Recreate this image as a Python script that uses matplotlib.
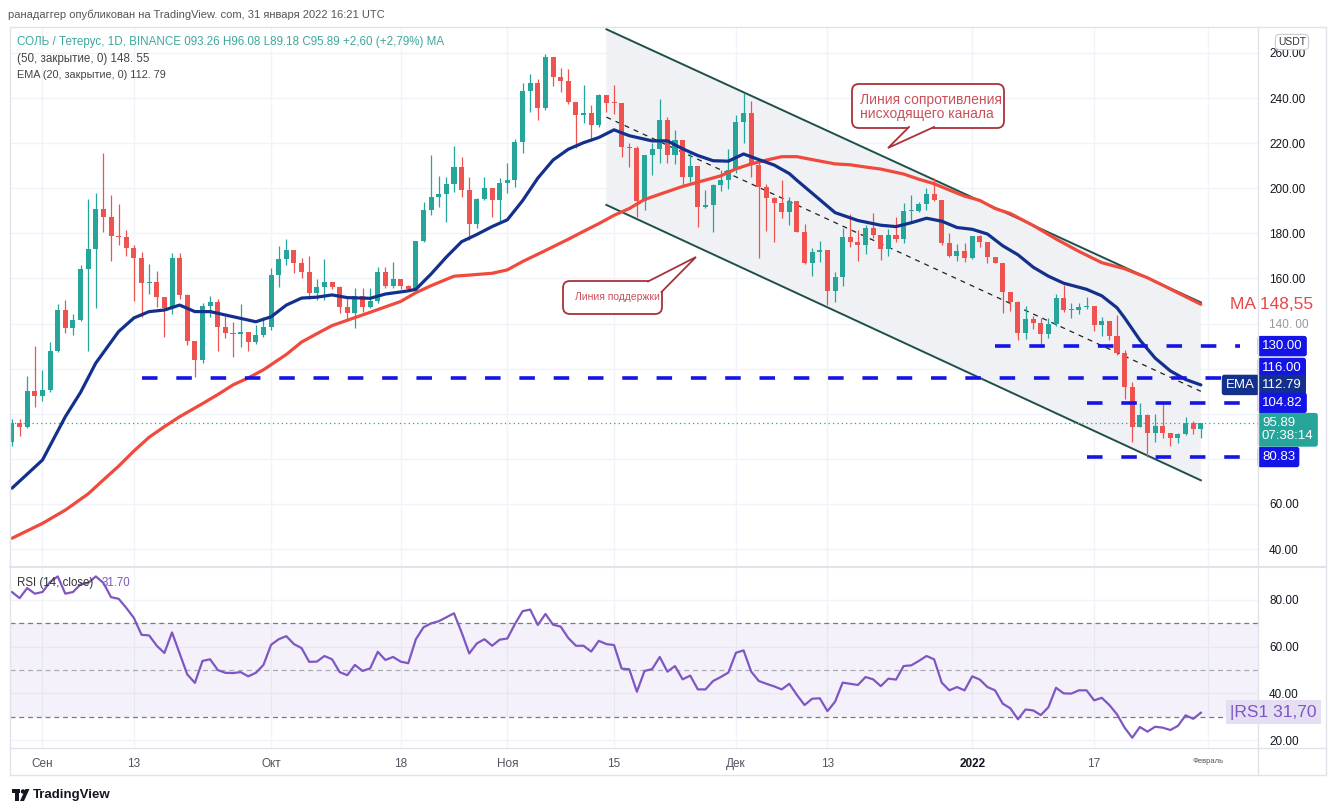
import matplotlib
matplotlib.use("Agg")
import matplotlib.pyplot as plt
from matplotlib.patches import FancyBboxPatch, Polygon, Rectangle, Circle
from matplotlib.transforms import blended_transform_factory

plt.rcParams["font.family"] = ["Liberation Sans", "DejaVu Sans"]

# ---- данные (дневные свечи 28.08.2021 - 31.01.2022) ----
FIRST_OPEN = 87.6
LAST_OPEN = 93.26
closes = [
    95.8, 94.0, 110.2, 107.9, 110.5, 127.9, 146.0, 138.2, 141.6, 164.1,
    173.1, 190.8, 187.4, 178.8, 178.5, 173.7, 169.0, 158.1, 158.5, 152.0,
    147.1, 169.2, 152.5, 132.4, 123.9, 147.8, 149.7, 138.6, 135.7, 135.2,
    136.3, 131.7, 135.0, 138.6, 161.6, 168.6, 172.6, 166.7, 163.0, 153.5,
    156.0, 158.6, 156.4, 147.2, 144.6, 152.2, 147.5, 150.0, 162.7, 156.7,
    159.8, 156.7, 155.2, 176.6, 190.4, 196.0, 197.5, 201.9, 209.6, 199.2,
    184.0, 195.1, 200.0, 194.8, 202.2, 203.7, 220.4, 243.1, 246.5, 235.5,
    258.1, 249.2, 247.7, 238.4, 232.5, 233.3, 228.1, 241.4, 238.0, 237.7,
    218.5, 218.0, 194.5, 214.8, 217.3, 230.3, 214.8, 221.4, 205.1, 209.9,
    191.8, 192.6, 201.4, 203.7, 208.1, 229.5, 233.5, 210.3, 200.4, 195.8,
    193.3, 189.6, 194.5, 180.8, 167.0, 171.8, 172.6, 154.6, 160.8, 178.3,
    176.3, 174.9, 182.3, 179.3, 173.1, 179.3, 177.4, 189.9, 190.1, 193.0,
    197.5, 194.8, 175.9, 170.0, 172.0, 169.0, 178.8, 176.3, 169.7, 167.0,
    154.2, 149.4, 136.0, 141.9, 140.1, 135.4, 140.0, 151.2, 146.0, 146.2,
    147.2, 147.8, 139.4, 141.3, 134.5, 126.8, 112.0, 94.3, 99.5, 91.6,
    94.6, 91.6, 89.1, 91.0, 95.8, 93.1, 95.89,
]
highs = [
    97.6, 97.6, 116.8, 130.0, 119.4, 131.8, 148.7, 150.5, 144.3, 165.9,
    195.1, 197.8, 215.5, 197.0, 193.0, 181.5, 175.0, 171.6, 166.4, 163.3,
    152.0, 171.2, 171.4, 153.0, 132.4, 149.3, 152.2, 150.8, 143.4, 140.9,
    148.7, 136.3, 139.4, 142.8, 164.5, 174.4, 177.4, 172.6, 169.0, 170.0,
    159.6, 168.5, 158.6, 156.7, 152.2, 155.6, 155.6, 155.6, 165.2, 165.2,
    167.4, 159.8, 157.1, 176.8, 193.8, 214.8, 205.5, 204.9, 218.8, 213.7,
    205.1, 195.5, 205.1, 200.0, 204.4, 211.1, 222.0, 246.8, 250.5, 248.3,
    259.6, 258.1, 253.2, 252.8, 238.4, 245.8, 236.9, 241.6, 241.4, 245.8,
    237.7, 220.0, 218.8, 214.8, 220.0, 239.5, 231.8, 225.9, 221.4, 215.5,
    209.9, 199.2, 201.8, 208.1, 217.4, 232.5, 242.4, 238.8, 212.5, 201.8,
    196.2, 203.7, 196.2, 194.5, 184.2, 173.4, 176.8, 172.6, 163.0, 182.3,
    188.6, 181.5, 183.7, 189.2, 179.3, 181.8, 187.4, 193.3, 197.0, 194.1,
    200.0, 204.4, 195.0, 180.0, 175.3, 175.9, 178.8, 179.3, 176.3, 169.7,
    167.0, 154.2, 150.0, 147.8, 143.4, 142.3, 142.3, 153.1, 157.1, 149.0,
    149.0, 151.7, 147.8, 143.1, 141.3, 143.6, 128.3, 114.0, 104.7, 100.0,
    100.0, 104.7, 91.6, 91.6, 98.4, 97.0, 96.08,
]
lows = [
    85.7, 90.2, 93.5, 103.0, 105.8, 109.5, 127.4, 135.7, 135.0, 141.0,
    128.0, 146.8, 180.8, 167.9, 174.9, 170.0, 150.2, 143.1, 153.1, 147.5,
    133.9, 144.3, 150.8, 130.5, 116.2, 122.4, 143.1, 128.0, 133.5, 125.0,
    129.8, 128.0, 131.0, 134.2, 137.0, 156.1, 166.0, 162.6, 160.0, 151.0,
    150.5, 150.5, 155.5, 144.6, 141.9, 137.9, 145.3, 146.8, 149.0, 155.6,
    155.6, 155.2, 154.5, 155.0, 176.3, 188.2, 191.8, 185.2, 198.5, 196.3,
    177.1, 182.3, 194.8, 187.4, 185.2, 197.8, 200.7, 215.5, 234.0, 230.3,
    234.7, 245.5, 242.8, 237.4, 217.7, 228.8, 221.4, 227.3, 234.0, 233.0,
    213.7, 209.6, 187.4, 190.4, 205.9, 211.1, 211.1, 210.9, 200.7, 202.9,
    182.7, 191.4, 180.8, 199.0, 199.6, 206.6, 220.0, 205.1, 169.0, 181.2,
    176.3, 186.7, 183.7, 180.5, 166.5, 161.1, 167.5, 148.2, 149.7, 156.7,
    174.1, 167.9, 170.9, 177.8, 168.2, 170.0, 176.3, 175.6, 184.5, 189.6,
    190.4, 194.5, 175.0, 169.5, 167.9, 167.5, 168.5, 174.1, 166.7, 166.7,
    144.8, 145.7, 132.7, 133.0, 137.5, 129.5, 133.8, 139.1, 145.3, 142.3,
    144.4, 146.6, 136.9, 134.5, 132.7, 126.0, 106.4, 87.6, 94.0, 81.0,
    87.6, 89.1, 85.9, 87.2, 90.6, 91.0, 89.18,
]

ema_days = [0, 4, 7, 9, 11, 14, 16, 18, 20, 22, 24, 26, 28, 30, 32, 34, 36, 38, 40,
            42, 44, 47, 49, 52, 53, 55, 57, 59, 61, 63, 65, 67, 69, 71, 73, 75, 77,
            79, 81, 84, 86, 88, 90, 92, 94, 96, 98, 100, 102, 103, 105, 108, 111,
            114, 116, 118, 120, 122, 124, 126, 128, 130, 132, 134, 136, 138, 141,
            143, 145, 146, 148, 150, 152, 154, 156]
ema_vals = [67.0, 79.5, 98.7, 109.5, 122.5, 136.5, 142.5, 145.3, 146.0, 148.2, 145.3,
            145.3, 143.8, 142.3, 140.8, 143.0, 148.2, 151.3, 151.7, 152.7, 151.5,
            151.2, 153.1, 154.5, 155.2, 162.0, 169.5, 176.3, 179.5, 183.0, 186.0,
            194.5, 204.5, 212.5, 217.3, 220.2, 222.5, 225.9, 223.3, 221.0, 221.0,
            217.5, 214.5, 212.2, 212.0, 215.2, 212.7, 210.3, 206.5, 203.5, 197.8,
            189.2, 185.7, 183.6, 183.0, 184.7, 186.7, 185.4, 182.6, 181.8, 179.7,
            174.5, 170.5, 165.0, 161.0, 157.9, 155.2, 152.3, 147.0, 142.5, 132.7,
            124.7, 119.0, 115.2, 112.79]
ma_days = [0, 4, 7, 10, 12, 14, 16, 18, 20, 22, 25, 27, 29, 31, 33, 36, 38, 40, 42,
           47, 51, 53, 55, 58, 60, 63, 65, 67, 70, 73, 75, 77, 79, 81, 83, 86, 88,
           90, 93, 95, 97, 99, 101, 103, 105, 108, 110, 112, 114, 117, 119, 121,
           123, 125, 127, 129, 131, 134, 137, 140, 143, 146, 149, 151, 153, 156]
ma_vals = [44.8, 51.4, 57.3, 64.5, 70.7, 76.8, 83.5, 89.6, 94.3, 98.7, 104.5, 108.5,
           112.8, 115.9, 119.5, 126.3, 131.8, 135.5, 139.1, 145.0, 149.8, 153.7,
           156.8, 161.0, 161.5, 162.3, 163.8, 167.5, 172.4, 177.4, 180.9, 184.3,
           188.0, 191.0, 195.0, 198.5, 200.8, 202.7, 205.5, 208.6, 210.8, 212.5,
           214.0, 214.0, 212.7, 210.8, 210.4, 209.4, 208.5, 206.3, 204.0, 202.0,
           199.2, 196.5, 194.6, 191.0, 188.8, 183.5, 177.5, 172.0, 167.0, 164.3,
           160.3, 157.0, 153.6, 148.55]

rsi_vals = [
    83.4, 80.8, 85.1, 82.7, 83.4, 87.7, 90.1, 82.7, 83.4, 86.7,
    87.3, 90.1, 87.3, 81.2, 80.5, 76.6, 72.3, 65.1, 64.8, 60.4,
    57.3, 66.1, 57.1, 48.1, 44.5, 53.9, 54.6, 50.0, 48.8, 48.7,
    49.1, 47.3, 48.8, 52.2, 60.8, 63.2, 64.5, 61.1, 59.4, 53.5,
    53.6, 56.0, 54.6, 49.1, 47.8, 52.2, 49.6, 50.7, 57.8, 54.3,
    55.6, 53.6, 52.9, 63.2, 68.3, 70.0, 70.9, 72.6, 74.3, 66.1,
    57.1, 61.4, 63.2, 60.4, 63.0, 63.5, 69.7, 75.2, 75.9, 69.3,
    74.0, 69.4, 68.6, 63.7, 60.4, 60.4, 57.9, 62.5, 61.1, 60.7,
    50.6, 50.3, 40.7, 49.6, 50.4, 55.6, 49.3, 51.7, 46.0, 47.6,
    41.7, 41.7, 45.3, 47.0, 48.9, 57.4, 58.4, 49.3, 45.3, 44.1,
    43.0, 41.7, 44.1, 39.3, 35.0, 37.7, 37.9, 32.4, 36.4, 44.6,
    44.1, 43.6, 47.0, 46.0, 43.1, 46.3, 45.9, 51.7, 52.0, 53.9,
    56.0, 54.6, 44.6, 41.3, 42.7, 41.3, 47.3, 45.9, 42.7, 41.3,
    35.6, 33.6, 28.9, 33.1, 32.7, 30.7, 34.1, 42.4, 40.0, 39.9,
    41.3, 41.3, 37.0, 38.1, 35.0, 31.0, 25.3, 21.0, 25.6, 23.6,
    25.7, 25.3, 24.3, 26.1, 30.6, 29.1, 31.7,
]

level_vals = [130.00, 116.00, 104.82, 80.83]
level_start = [129, 17, 141, 141]

tick_days = [4, 16, 34, 51, 65, 79, 95, 107, 126, 142, 157]
tick_labels = ["Сен", "13", "Окт", "18", "Ноя", "15", "Дек", "13", "2022", "17", "Февраль"]
price_ticks = [260, 240, 220, 200, 180, 160, 140, 120, 100, 80, 60, 40]
price_tick_labels = ["260.00", "240.00", "220.00", "200.00", "180.00", "160.00",
                     "140. 00", "", "", "", "60.00", "40.00"]

# ---- оформление ----
W, H = 1336, 811
GREEN = "#26a69a"
RED = "#ef5350"
EMA_C = "#13308c"
MA_C = "#ef4a3c"
LVL_C = "#1414e6"
CH_C = "#1f4f4b"
RSI_C = "#7e57c2"
GRID = "#f0f3fa"

opens = [FIRST_OPEN] + closes[:-2] + [LAST_OPEN]
n = len(closes)
idx = list(range(n))

fig = plt.figure(figsize=(W / 100, H / 100), dpi=100)
fig.patch.set_facecolor("white")
ax = fig.add_axes([10 / W, 1 - 566 / H, 1248 / W, 539 / H])
rsi = fig.add_axes([10 / W, 1 - 748 / H, 1248 / W, 180 / H], sharex=ax)
XLIM = (-0.26, 163.5)

# ---- ценовая панель ----
ax.set_xlim(*XLIM)
ax.set_ylim(32.5, 271.5)
for s in ax.spines.values():
    s.set_visible(False)
ax.set_xticks(tick_days)
ax.tick_params(axis="x", length=0, labelbottom=False)
ax.yaxis.tick_right()
ax.set_yticks(price_ticks)
ax.set_yticklabels(price_tick_labels)
ax.tick_params(axis="y", length=0, pad=8, labelsize=8.5, labelcolor="#131722")
for lab in ax.get_yticklabels():
    if lab.get_text() == "140. 00":
        lab.set_color("#9598a1")
ax.grid(True, color=GRID, lw=1, zorder=0)
ax.set_axisbelow(True)

# канал
ch_x = [78, 156]
ch_up = [270.5, 149.4]
ch_lo = [192.6, 70.5]
ax.add_patch(Polygon([(ch_x[0], ch_up[0]), (ch_x[1], ch_up[1]), (ch_x[1], ch_lo[1]), (ch_x[0], ch_lo[0])],
                     closed=True, fc="#eff1f4", ec="none", zorder=1))
ax.plot(ch_x, ch_up, color=CH_C, lw=1.4, zorder=2)
ax.plot(ch_x, ch_lo, color=CH_C, lw=1.4, zorder=2)
ax.plot(ch_x, [(ch_up[0] + ch_lo[0]) / 2, (ch_up[1] + ch_lo[1]) / 2], color="#222222",
        lw=0.9, ls=(0, (4, 4)), zorder=2)

# свечи
for i in idx:
    o, c = opens[i], closes[i]
    col = GREEN if c >= o else RED
    ax.vlines(i, lows[i], highs[i], color=col, lw=0.9, zorder=3)
    ax.bar(i, max(abs(c - o), 0.35), bottom=min(o, c), width=0.66, color=col, lw=0, zorder=3)

ax.plot(ma_days, ma_vals, color=MA_C, lw=2.3, zorder=4, solid_capstyle="round")
ax.plot(ema_days, ema_vals, color=EMA_C, lw=2.3, zorder=4, solid_capstyle="round")

ax.axhline(closes[-1], color=GREEN, lw=0.9, ls=(0, (1, 2.5)), zorder=2)
for lv, st in zip(level_vals, level_start):
    ax.plot([st, 161.2], [lv, lv], color=LVL_C, lw=2.6, dashes=(4.3, 5.2), zorder=5)

# метки на шкале цены
tr = blended_transform_factory(ax.transAxes, ax.transData)


def tag(y, text, fc, x_px=1262, fs=9.5, tc="white", va="center"):
    ax.text((x_px - 10) / 1248, y, text, transform=tr, ha="left", va=va, color=tc,
            fontsize=fs, clip_on=False, zorder=12, linespacing=1.15,
            bbox=dict(boxstyle="round,pad=0.32,rounding_size=0.2", fc=fc, ec="none"))


tag(level_vals[0], "130.00", LVL_C)
tag(level_vals[1] + 4.3, "116.00", LVL_C)
tag(ema_vals[-1], "112.79", EMA_C)
tag(ema_vals[-1], "EMA", EMA_C, x_px=1226)
tag(level_vals[2], "104.82", LVL_C)
tag(level_vals[3], "80.83", LVL_C)
tag(closes[-1] - 3.0, "95.89\n07:38:14", GREEN)
ax.text((1230 - 10) / 1248, ma_vals[-1], "MA 148,55", transform=tr, ha="left", va="center",
        color="#e8474a", fontsize=12.5, clip_on=False, zorder=12)

# ---- панель RSI ----
rsi.set_ylim(16.6, 93.7)
for s in rsi.spines.values():
    s.set_visible(False)
rsi.axhspan(30, 70, color=RSI_C, alpha=0.08, lw=0, zorder=1)
for lv, c in [(70, "#787b86"), (50, "#a9abb3"), (30, "#787b86")]:
    rsi.axhline(lv, color=c, lw=0.9, ls=(0, (4, 3)), zorder=2)
rsi.plot(idx, rsi_vals, color=RSI_C, lw=1.6, zorder=3)
rsi.yaxis.tick_right()
rsi.set_yticks([80, 60, 40, 20])
rsi.set_yticklabels(["80.00", "60.00", "40.00", "20.00"])
rsi.tick_params(axis="y", length=0, pad=8, labelsize=8.5, labelcolor="#131722")
rsi.set_xticks(tick_days)
rsi.set_xticklabels(tick_labels)
rsi.tick_params(axis="x", length=0, pad=7, labelsize=8.5, labelcolor="#50535e")
for lab in rsi.get_xticklabels():
    if lab.get_text() == "2022":
        lab.set_fontweight("bold")
        lab.set_color("#131722")
    if lab.get_text() == "Февраль":
        lab.set_fontsize(5.5)
rsi.grid(True, color=GRID, lw=1, zorder=0)
rsi.set_axisbelow(True)
rtr = blended_transform_factory(rsi.transAxes, rsi.transData)
rsi.text((1230 - 10) / 1248, rsi_vals[-1] + 0.3, "|RS1 31,70", transform=rtr, ha="left", va="center",
         color=RSI_C, fontsize=12.5, clip_on=False, zorder=12,
         bbox=dict(boxstyle="square,pad=0.25", fc="#e6def3", ec="none"))

# ---- надписи, рамка, выноски ----
ov = fig.add_axes([0, 0, 1, 1], zorder=20)
ov.set_xlim(0, W)
ov.set_ylim(H, 0)
ov.axis("off")
ov.patch.set_visible(False)

ov.add_patch(Rectangle((10, 27), 1316, 748, fill=False, ec="#e0e3eb", lw=1))
ov.plot([1258, 1258], [27, 775], color="#e0e3eb", lw=1)
ov.plot([10, 1326], [567, 567], color="#e0e3eb", lw=1.5)
ov.plot([10, 1326], [748, 748], color="#e0e3eb", lw=1)

ov.text(8, 15, "ранадаггер опубликован на TradingView. com, 31 января 2022 16:21 UTC",
        fontsize=8, color="#555555", va="center")
ov.text(17, 42, "СОЛЬ / Тетерус, 1D, BINANCE 093.26 H96.08 L89.18 C95.89 +2,60 (+2,79%) MA",
        fontsize=8.4, color="#3fa89b", va="center")
ov.text(17, 59, "(50, закрытие, 0) 148. 55", fontsize=8.4, color="#444444", va="center")
ov.text(17, 75, "EMA (20, закрытие, 0) 112. 79", fontsize=7.8, color="#444444", va="center")
ov.text(1292, 42, "USDT", fontsize=7.5, color="#333333", ha="center", va="center",
        bbox=dict(boxstyle="round,pad=0.25,rounding_size=0.4", fc="white", ec="#c9ccd3", lw=0.8))
ov.text(17, 583, "RSI (14, close)", fontsize=8.3, color="#333333", va="center")
ov.text(102, 583, "31.70", fontsize=8.3, color=RSI_C, va="center")

EDGE = "#a8323c"
TXT = "#c9505a"


def callout(box, tail, lines, fs, tx, ty0, dy):
    x0, y0, x1, y1 = box
    ov.add_patch(FancyBboxPatch((x0, y0), x1 - x0, y1 - y0,
                                boxstyle="round,pad=0,rounding_size=7",
                                fc="white", ec=EDGE, lw=1.3, zorder=5))
    ov.add_patch(Polygon(tail, closed=True, fc="white", ec="none", zorder=6))
    ov.plot([tail[0][0], tail[1][0], tail[2][0]], [tail[0][1], tail[1][1], tail[2][1]],
            color=EDGE, lw=1.3, zorder=7, solid_joinstyle="miter")
    for k, line in enumerate(lines):
        ov.text(tx, ty0 + k * dy, line, fontsize=fs, color=TXT, va="center", zorder=8)


callout((852, 84, 1004, 128), [(909, 127), (888, 148), (934, 127)],
        ["Линия сопротивления", "нисходящего канала"], 10, 860, 100, 14)
callout((563, 281, 662, 314), [(648, 281.5), (696, 257), (661.5, 292)],
        ["Линия поддержки"], 7.5, 575, 297.5, 0)

# логотип TradingView внизу
ov.add_patch(Rectangle((12, 789), 8, 4, fc="#131722", ec="none"))
ov.add_patch(Rectangle((15, 789), 4, 12, fc="#131722", ec="none"))
ov.add_patch(Circle((23, 791.5), 2.2, fc="#131722", ec="none"))
ov.add_patch(Polygon([(20, 801), (25.5, 789), (29.5, 789), (24, 801)], closed=True, fc="#131722", ec="none"))
ov.text(33, 795, "TradingView", fontsize=9.5, color="#131722", va="center", fontweight="bold")

fig.savefig("out.png", dpi=100, facecolor="white")
